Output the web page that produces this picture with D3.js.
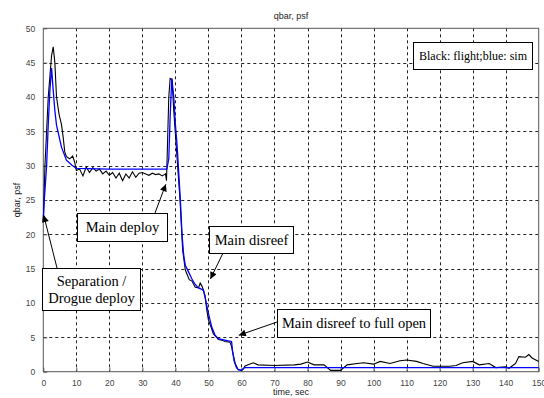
<!DOCTYPE html>
<html>
<head>
<meta charset="utf-8">
<script src="https://cdn.jsdelivr.net/npm/d3@7"></script>
<style>
  html, body { margin: 0; padding: 0; background: #fff; }
  svg { display: block; }
</style>
</head>
<body>
<svg id="chart" width="544" height="398"></svg>
<script>
// Dynamic pressure history: flight telemetry vs. simulation
const xTicks = [0, 10, 20, 30, 40, 50, 60, 70, 80, 90, 100, 110, 120, 130, 140, 150];
const yTicks = [0, 5, 10, 15, 20, 25, 30, 35, 40, 45, 50];

// flight (black)
const flightTime = [0, 0.5, 1, 1.5, 2, 2.5, 3, 3.5, 4, 4.8, 5.5, 6, 6.5, 7, 8, 8.9, 9.5, 10,
  11, 12, 13, 14, 15, 16, 17, 18, 19, 20, 21, 22, 23, 24, 25, 26, 27, 28, 29, 30, 31, 32, 33,
  34, 35, 36, 37, 37.3, 37.6, 38, 38.4, 39, 39.5, 40.4, 41.4, 42.2, 43, 44.2, 45, 46, 47, 47.5,
  48, 48.4, 49, 49.5, 50, 50.8, 51.5, 52.3, 53, 54, 55, 56.5, 57, 57.5, 58.1, 59, 60, 60.6, 61,
  62, 63.6, 65, 70, 76, 78, 80, 82, 85, 87, 90, 92, 95, 97, 100, 102, 105, 108, 110, 113, 115,
  118, 120, 123, 125, 127, 130, 132, 135, 137, 140, 141, 143, 144, 146, 147, 148, 150];
const flightQbar = [22, 30, 35, 40, 43, 46, 47.3, 45, 40, 37.4, 36, 34.2, 32, 31.3, 31, 31.4, 30.5, 29.3,
  29.5, 28.5, 29.8, 29.0, 29.7, 29.2, 29.5, 28.8, 29.2, 28.6, 29.0, 28.2, 28.9, 27.8, 28.8, 28.2, 29.1, 28.3, 28.9, 29.0, 28.8, 28.6, 28.9,
  28.7, 28.8, 28.5, 28.8, 27.8, 33, 40, 42.7, 42.5, 38, 31.8, 25, 17.7, 14.8, 13.4, 13.2, 12.3, 12.2, 12.9,
  12.5, 12, 11, 9.0, 7.5, 6.5, 5.5, 5.1, 4.7, 4.6, 4.4, 4.3, 3.7, 2.5, 1.2, 0.3, 0.2, 0.4, 0.8,
  1.0, 1.3, 1.0, 0.9, 1.0, 1.1, 1.4, 1.0, 1.0, 0.2, 0.2, 1.0, 1.2, 1.3, 1.1, 1.5, 1.2, 1.6, 1.7, 1.5, 1.2,
  0.8, 0.8, 0.8, 0.9, 1.3, 1.5, 1.0, 1.2, 0.6, 0.7, 0.5, 1.2, 2.2, 2.1, 2.5, 2.0, 1.5];

// simulation (blue)
const simTime = [0, 0.3, 1, 1.5, 2, 2.5, 3, 3.5, 4, 5.5, 7, 8.6, 10, 20, 30, 37.4, 38, 38.4, 38.9,
  39.5, 40, 40.5, 41, 41.5, 42, 42.5, 43, 44, 45, 46, 47, 48, 48.5, 49, 50, 51, 52, 53, 54, 55, 56,
  57, 57.3, 57.8, 58.5, 59, 60, 61, 150];
const simQbar = [22, 25, 30, 36, 41, 44.2, 41, 38, 35.9, 32.7, 30.8, 30.1, 29.6, 29.5, 29.5, 29.5, 31, 37, 42.7,
  40, 36, 33, 29, 25, 20, 17, 15.5, 14.5, 13.5, 12.7, 12.2, 12.0, 11.8, 10.8, 8.5, 6.5, 5.3, 4.8, 4.7, 4.6, 4.5,
  4.4, 3.0, 1.5, 0.6, 0.3, 0.2, 0.6, 0.6];

const svg = d3.select("#chart");
const plotL = 43.3, plotR = 538.7, plotT = 28.3, plotB = 371.7;

const x = d3.scaleLinear().domain([0, 150]).range([plotL, plotR]);
const y = d3.scaleLinear().domain([0, 50]).range([plotB, plotT]);

const sans = "'Liberation Sans', Arial, sans-serif";
const serif = "'Liberation Serif', 'Times New Roman', serif";

// dashed grid
svg.append("g").attr("class", "grid-x")
  .selectAll("line").data(xTicks.slice(1, -1)).join("line")
  .attr("x1", d => Math.round(x(d)) + 0.5).attr("x2", d => Math.round(x(d)) + 0.5)
  .attr("y1", plotT).attr("y2", plotB)
  .attr("stroke", "#222").attr("stroke-width", 1).attr("stroke-dasharray", "3,3");
svg.append("g").attr("class", "grid-y")
  .selectAll("line").data(yTicks.slice(1, -1)).join("line")
  .attr("y1", d => Math.round(y(d)) + 0.5).attr("y2", d => Math.round(y(d)) + 0.5)
  .attr("x1", plotL).attr("x2", plotR)
  .attr("stroke", "#222").attr("stroke-width", 1).attr("stroke-dasharray", "3,3");

// axes
const xAxis = d3.axisBottom(x).tickValues(xTicks).tickSize(-4).tickPadding(8);
const yAxis = d3.axisLeft(y).tickValues(yTicks).tickSize(-4).tickPadding(8);

const gx = svg.append("g").attr("transform", `translate(0,${plotB})`).call(xAxis);
const gy = svg.append("g").attr("transform", `translate(${plotL},0)`).call(yAxis);
[gx, gy].forEach(g => {
  g.select(".domain").remove();
  g.selectAll(".tick line").attr("stroke", "#555");
  g.selectAll(".tick text").attr("font-family", sans).attr("font-size", 8.5).attr("fill", "#444");
});

// frame
svg.append("rect").attr("x", plotL).attr("y", plotT)
  .attr("width", plotR - plotL).attr("height", plotB - plotT)
  .attr("fill", "none").attr("stroke", "#555").attr("stroke-width", 1);

// curves
const line = d3.line().x(d => x(d[0])).y(d => y(d[1]));
svg.append("path").datum(flightTime.map((t, i) => [t, flightQbar[i]]))
  .attr("d", line).attr("fill", "none").attr("stroke", "#000").attr("stroke-width", 1.1);
svg.append("path").datum(simTime.map((t, i) => [t, simQbar[i]]))
  .attr("d", line).attr("fill", "none").attr("stroke", "#0000ff").attr("stroke-width", 1.3);

// titles
svg.append("text").attr("x", (plotL + plotR) / 2).attr("y", 19)
  .attr("text-anchor", "middle").attr("font-family", sans).attr("font-size", 9)
  .attr("fill", "#222").text("qbar, psf");
svg.append("text").attr("x", (plotL + plotR) / 2).attr("y", 395)
  .attr("text-anchor", "middle").attr("font-family", sans).attr("font-size", 9)
  .attr("fill", "#222").text("time, sec");
svg.append("text").attr("transform", `translate(20,${(plotT + plotB) / 2}) rotate(-90)`)
  .attr("text-anchor", "middle").attr("font-family", sans).attr("font-size", 9)
  .attr("fill", "#222").text("qbar, psf");

// arrowhead marker
svg.append("defs").append("marker").attr("id", "head")
  .attr("viewBox", "0 0 10 10").attr("refX", 10).attr("refY", 5)
  .attr("markerWidth", 9).attr("markerHeight", 7).attr("markerUnits", "userSpaceOnUse")
  .attr("orient", "auto")
  .append("path").attr("d", "M0,0 L10,5 L0,10 Z").attr("fill", "#000");

// text boxes with arrows pointing at events
const notes = [
  { lines: ["Separation /", "Drogue deploy"], box: [42, 268, 98, 42], from: [57, 268], tip: [0.1, 22.8] },
  { lines: ["Main deploy"], box: [77, 213, 90, 28], from: [155, 213], tip: [37.1, 27.3] },
  { lines: ["Main disreef"], box: [209, 226, 84, 27], from: [223, 253], tip: [50.6, 13.5] },
  { lines: ["Main disreef to full open"], box: [277, 309, 153, 28], from: [277, 322], tip: [59.2, 5.3] }
];
notes.forEach(n => {
  svg.append("line").attr("x1", n.from[0]).attr("y1", n.from[1])
    .attr("x2", x(n.tip[0])).attr("y2", y(n.tip[1]))
    .attr("stroke", "#000").attr("stroke-width", 1).attr("marker-end", "url(#head)");
  const [bx, by, bw, bh] = n.box;
  svg.append("rect").attr("x", bx + 0.5).attr("y", by + 0.5).attr("width", bw).attr("height", bh)
    .attr("fill", "#fff").attr("stroke", "#000").attr("stroke-width", 1);
  const lh = 17;
  const y0 = by + bh / 2 - (n.lines.length - 1) * lh / 2 + 5;
  n.lines.forEach((s, i) => {
    svg.append("text").attr("x", bx + bw / 2 + 0.5).attr("y", y0 + i * lh)
      .attr("text-anchor", "middle").attr("font-family", serif).attr("font-size", 14.5)
      .attr("fill", "#000").text(s);
  });
});

// legend box
svg.append("rect").attr("x", 413.5).attr("y", 42.5).attr("width", 119).attr("height", 27)
  .attr("fill", "#fff").attr("stroke", "#000").attr("stroke-width", 1);
svg.append("text").attr("x", 473).attr("y", 60).attr("text-anchor", "middle")
  .attr("font-family", serif).attr("font-size", 12).attr("fill", "#000")
  .text("Black: flight;blue: sim");
</script>
</body>
</html>
